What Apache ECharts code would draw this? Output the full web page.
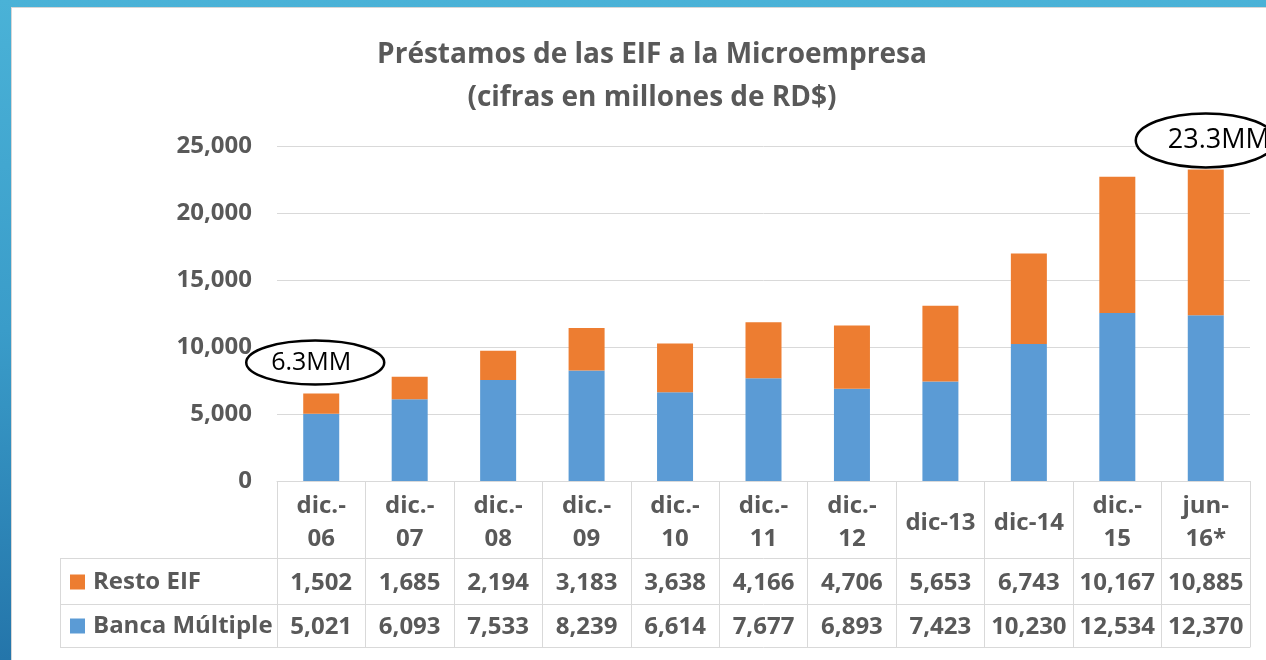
<!DOCTYPE html>
<html>
<head>
<meta charset="utf-8">
<script src="https://cdn.jsdelivr.net/npm/echarts@6/dist/echarts.min.js"></script>
<style>
html,body{margin:0;padding:0;}
body{width:1266px;height:660px;overflow:hidden;position:relative;background:linear-gradient(to bottom,#4ab2d7 0%,#3a9cc9 50%,#2475aa 100%);}
#panel{position:absolute;left:11px;top:7px;width:1255px;height:653px;background:#fff;border-left:1px solid #d6d6d6;border-top:1px solid #d6d6d6;box-sizing:border-box;}
#chart{position:absolute;left:0;top:0;width:1266px;height:660px;}
</style>
</head>
<body>
<div id="panel"></div>
<div id="chart"></div>
<script>
const categories = ['dic.-\n06','dic.-\n07','dic.-\n08','dic.-\n09','dic.-\n10','dic.-\n11','dic.-\n12','dic-13','dic-14','dic.-\n15','jun-\n16*'];
const restoEIF = [1502,1685,2194,3183,3638,4166,4706,5653,6743,10167,10885];
const bancaMultiple = [5021,6093,7533,8239,6614,7677,6893,7423,10230,12534,12370];
const yTicks = [0,5000,10000,15000,20000,25000];
const annotations = [{index:0,text:'6.3MM'},{index:10,text:'23.3MM'}];

const fmt = v => v.toLocaleString('en-US');
const FONT = '"Open Sans", sans-serif';
const TXT = '#595959';
const LINE = '#d9d9d9';
const totals = restoEIF.map((v,i)=>v+bancaMultiple[i]);

const chart = echarts.init(document.getElementById('chart'), null, {renderer:'canvas'});
const baseLabel = {fontFamily:FONT,fontSize:24,fontWeight:'bold',color:TXT};

const option = {
  backgroundColor:'transparent',
  animation:false,
  title:{
    text:'Préstamos de las EIF a la Microempresa\n(cifras en millones de RD$)',
    left:647, top:29, textAlign:'center',
    textStyle:{fontFamily:FONT,fontSize:28,fontWeight:'bold',color:TXT,lineHeight:43}
  },
  legend:[
    {data:['Resto EIF'],left:70,top:570,padding:0,itemWidth:15,itemHeight:15,icon:'rect',itemGap:8,
     textStyle:Object.assign({},baseLabel,{lineHeight:24,padding:[0,0,0,3]}),selectedMode:false},
    {data:['Banca Múltiple'],left:70,top:614,padding:0,itemWidth:15,itemHeight:15,icon:'rect',
     textStyle:Object.assign({},baseLabel,{lineHeight:24,padding:[0,0,0,3]}),selectedMode:false}
  ],
  grid:{left:277,right:16,top:146,bottom:179,containLabel:false},
  xAxis:[
    {type:'category',data:categories,position:'bottom',
     axisLine:{show:true,onZero:false,lineStyle:{color:LINE,width:1}},
     axisTick:{show:true,interval:0,length:166,lineStyle:{color:LINE,width:1}},
     axisLabel:Object.assign({},baseLabel,{interval:0,margin:42,verticalAlign:'middle',lineHeight:33})},
    {type:'category',data:restoEIF.map(fmt),position:'bottom',offset:77,
     axisLine:{show:true,onZero:false,lineStyle:{color:LINE,width:1}},
     axisTick:{show:false},
     axisLabel:Object.assign({},baseLabel,{interval:0,margin:25,verticalAlign:'middle'})},
    {type:'category',data:bancaMultiple.map(fmt),position:'bottom',offset:123,
     axisLine:{show:true,onZero:false,lineStyle:{color:LINE,width:1}},
     axisTick:{show:false},
     axisLabel:Object.assign({},baseLabel,{interval:0,margin:23,verticalAlign:'middle'})},
    {type:'category',data:categories,position:'bottom',offset:166,
     axisLine:{show:true,onZero:false,lineStyle:{color:LINE,width:1}},
     axisTick:{show:false},axisLabel:{show:false}}
  ],
  yAxis:{type:'value',min:yTicks[0],max:yTicks[yTicks.length-1],interval:yTicks[1]-yTicks[0],
    axisLine:{show:false},axisTick:{show:false},
    splitLine:{lineStyle:{color:LINE,width:1}},
    axisLabel:Object.assign({},baseLabel,{margin:25,formatter:v=>fmt(v)})},
  series:[
    {name:'Banca Múltiple',type:'bar',stack:'t',data:bancaMultiple,barWidth:36,
     itemStyle:{color:'#5b9bd5'},xAxisIndex:0},
    {name:'Resto EIF',type:'bar',stack:'t',data:restoEIF,barWidth:36,
     itemStyle:{color:'#ed7d31'},xAxisIndex:0}
  ]
};
chart.setOption(option);

// table borders for the left legend column
const gridLeft = 277, rows=[558,604,647], tableLeft=60;
const graphics = rows.map(y=>({type:'line',shape:{x1:tableLeft,y1:y+0.5,x2:gridLeft,y2:y+0.5},style:{stroke:LINE,lineWidth:1},silent:true}));
graphics.push({type:'line',shape:{x1:tableLeft+0.5,y1:rows[0],x2:tableLeft+0.5,y2:rows[2]},style:{stroke:LINE,lineWidth:1},silent:true});

// annotation ellipses anchored to bar tops
const cfg = [{dx:-6,dy:-31,rx:69,ry:22,fs:25,tx:-4,align:'center'},{dx:0,dy:-29,rx:70,ry:27,fs:27,tx:-38,align:'left'}];
annotations.forEach((a,k)=>{
  const p = chart.convertToPixel({xAxisIndex:0,yAxisIndex:0},[a.index,totals[a.index]]);
  const c = cfg[k];
  const cx=p[0]+c.dx, cy=p[1]+c.dy;
  graphics.push({type:'ellipse',shape:{cx:cx,cy:cy,rx:c.rx,ry:c.ry},style:{fill:'#fff',stroke:'#000',lineWidth:2.5},z:100});
  graphics.push({type:'text',x:cx+c.tx,y:cy,style:{text:a.text,fontFamily:FONT,fontSize:c.fs,fontWeight:'normal',fill:'#000',align:c.align,verticalAlign:'middle'},z:101});
});
chart.setOption({graphic:graphics});
</script>
</body>
</html>
